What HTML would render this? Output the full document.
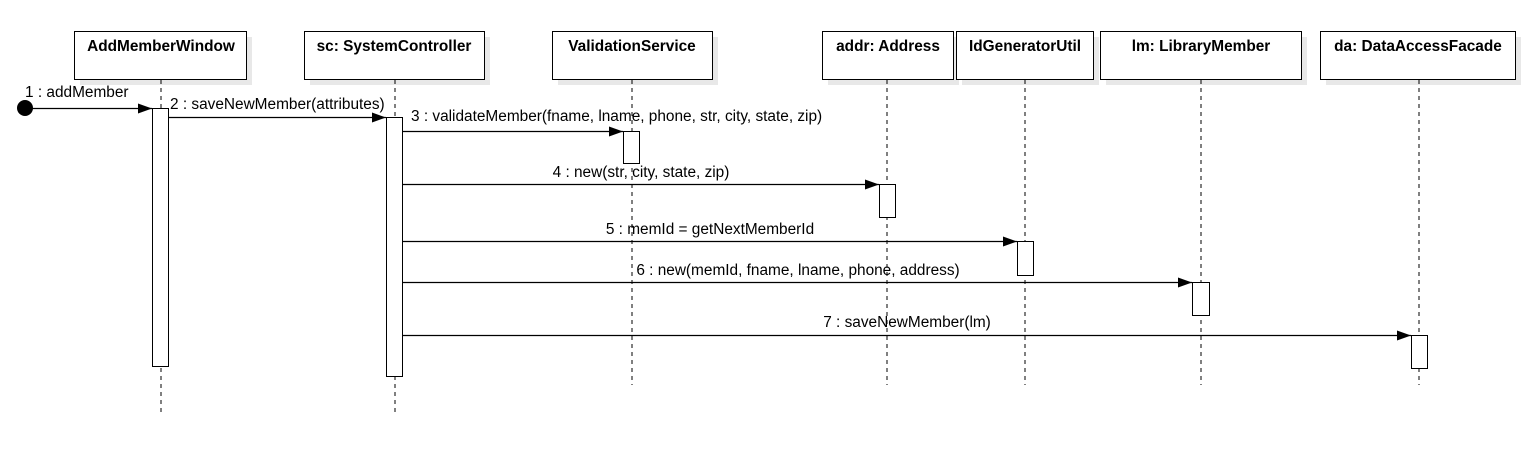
<!DOCTYPE html>
<html><head><meta charset="utf-8"><style>
body{margin:0;background:#fff;}
svg text{font-family:"Liberation Sans",sans-serif;font-size:15.4px;fill:#000;}
.b{font-weight:bold;}
</style></head><body>
<svg width="1537" height="460" xmlns="http://www.w3.org/2000/svg">
<defs><marker id="a" markerWidth="14" markerHeight="10" refX="14" refY="5" orient="auto" markerUnits="userSpaceOnUse"><path d="M0,0 L14,5 L0,10 Z" fill="#000"/></marker></defs>
<g fill="#e8e8e8">
<rect x="80" y="37" width="172" height="48"/><rect x="310" y="37" width="180" height="48"/>
<rect x="558" y="37" width="160" height="48"/><rect x="828" y="37" width="131" height="48"/>
<rect x="962" y="37" width="137" height="48"/><rect x="1106" y="37" width="201" height="48"/>
<rect x="1326" y="37" width="195" height="48"/>
</g>
<g fill="#fff" stroke="#000" stroke-width="1">
<rect x="74.5" y="31.5" width="172" height="48"/><rect x="304.5" y="31.5" width="180" height="48"/>
<rect x="552.5" y="31.5" width="160" height="48"/><rect x="822.5" y="31.5" width="131" height="48"/>
<rect x="956.5" y="31.5" width="137" height="48"/><rect x="1100.5" y="31.5" width="201" height="48"/>
<rect x="1320.5" y="31.5" width="195" height="48"/>
</g>
<g text-anchor="middle">
<text x="161" y="51" class="b">AddMemberWindow</text><text x="394" y="51" class="b">sc: SystemController</text>
<text x="632" y="51" class="b">ValidationService</text><text x="888" y="51" class="b">addr: Address</text>
<text x="1025" y="51" class="b">IdGeneratorUtil</text><text x="1201" y="51" class="b">lm: LibraryMember</text>
<text x="1418" y="51" class="b">da: DataAccessFacade</text>
</g>
<g stroke="#000" stroke-dasharray="4,4">
<line x1="161" y1="80" x2="161" y2="412"/><line x1="395" y1="80" x2="395" y2="412"/>
<line x1="632" y1="80" x2="632" y2="385"/><line x1="887" y1="80" x2="887" y2="385"/>
<line x1="1025" y1="80" x2="1025" y2="385"/><line x1="1201" y1="80" x2="1201" y2="385"/>
<line x1="1419" y1="80" x2="1419" y2="385"/>
</g>
<g fill="#fff" stroke="#000">
<rect x="152.5" y="108.5" width="16" height="258"/><rect x="386.5" y="117.5" width="16" height="259"/>
<rect x="623.5" y="131.5" width="16" height="32"/><rect x="879.5" y="184.5" width="16" height="33"/>
<rect x="1017.5" y="241.5" width="16" height="34"/><rect x="1192.5" y="282.5" width="17" height="33"/>
<rect x="1411.5" y="335.5" width="16" height="33"/>
</g>
<circle cx="25" cy="108" r="8" fill="#000"/>
<g stroke="#000" stroke-width="1.3" marker-end="url(#a)">
<line x1="25" y1="108.5" x2="152" y2="108.5"/><line x1="169" y1="117.5" x2="386" y2="117.5"/>
<line x1="403" y1="131.5" x2="623" y2="131.5"/><line x1="403" y1="184.5" x2="879" y2="184.5"/>
<line x1="403" y1="241.5" x2="1017" y2="241.5"/><line x1="403" y1="282.5" x2="1192" y2="282.5"/>
<line x1="403" y1="335.5" x2="1411" y2="335.5"/>
</g>
<text x="25" y="97">1 : addMember</text>
<text x="170" y="109">2 : saveNewMember(attributes)</text>
<text x="411" y="121">3 : validateMember(fname, lname, phone, str, city, state, zip)</text>
<g text-anchor="middle">
<text x="641" y="177">4 : new(str, city, state, zip)</text>
<text x="710" y="234">5 : memId = getNextMemberId</text>
<text x="798" y="275">6 : new(memId, fname, lname, phone, address)</text>
<text x="907" y="327">7 : saveNewMember(lm)</text>
</g>
</svg>
</body></html>
